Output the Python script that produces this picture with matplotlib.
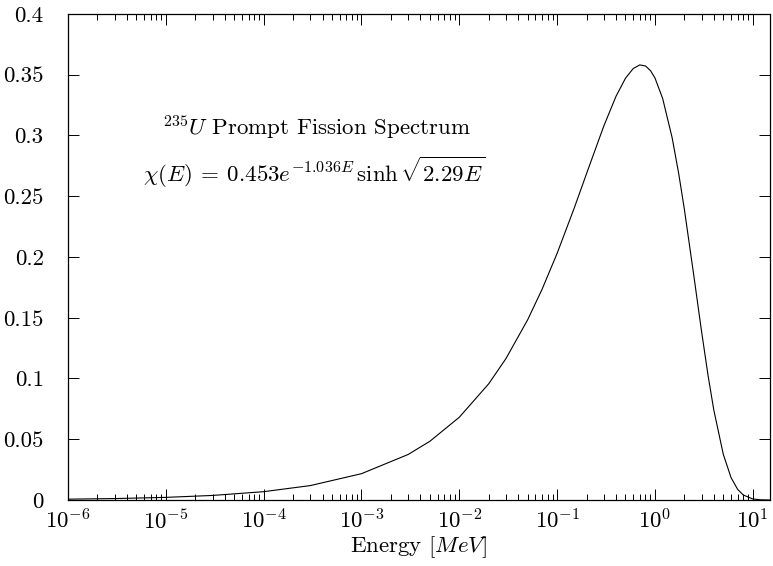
import numpy as np
import matplotlib
matplotlib.use("Agg")
from matplotlib import pyplot as plt
from matplotlib.ticker import FixedLocator, FixedFormatter, LogLocator, LogFormatterMathtext

plt.rcParams['font.family'] = 'cmr10'
plt.rcParams['mathtext.fontset'] = 'cm'
plt.rcParams['axes.formatter.use_mathtext'] = True

# Energy [MeV] and chi(E)
energy = [1e-6, 3e-6, 1e-5, 3e-5, 1e-4, 3e-4, 1e-3, 3e-3, 5e-3, 1e-2, 2e-2, 3e-2,
          5e-2, 0.07, 0.1, 0.15, 0.2, 0.3, 0.4, 0.5, 0.6, 0.7, 0.8, 0.9, 1.0,
          1.2, 1.5, 1.75, 2.0, 2.5, 3.0, 3.5, 4.0, 5.0, 6.0, 7.0, 8.0, 10.0,
          12.0, 15.0]
chi = [0.000686, 0.001187, 0.002168, 0.003755, 0.006854, 0.011871, 0.021664,
       0.037474, 0.048314, 0.068105, 0.095684, 0.116423, 0.148340, 0.173226,
       0.202990, 0.240524, 0.268671, 0.307768, 0.332256, 0.347124, 0.355122,
       0.358084, 0.357240, 0.353427, 0.347363, 0.330385, 0.298069, 0.268594,
       0.239151, 0.184374, 0.138432, 0.101932, 0.073915, 0.037539, 0.018410,
       0.008795, 0.004116, 0.000859, 0.000171, 0.000014]

y_ticks = [0, 0.05, 0.1, 0.15, 0.2, 0.25, 0.3, 0.35, 0.4]
y_tick_labels = ['0', '0.05', '0.1', '0.15', '0.2', '0.25', '0.3', '0.35', '0.4']

fig = plt.figure(figsize=(7.73, 5.66), dpi=100)
ax = fig.add_axes([0.088, 0.1166, 0.9081, 0.8587])

ax.plot(energy, chi, color='black', linewidth=0.8)

ax.set_xscale('log')
ax.set_xlim(1e-6, 15)
ax.set_ylim(0, 0.4)

ax.xaxis.set_major_locator(LogLocator(base=10, numticks=20))
ax.xaxis.set_minor_locator(LogLocator(base=10, subs=np.arange(2, 10), numticks=20))
ax.xaxis.set_major_formatter(LogFormatterMathtext())
ax.yaxis.set_major_locator(FixedLocator(y_ticks))
ax.yaxis.set_major_formatter(FixedFormatter(y_tick_labels))

ax.tick_params(which='both', direction='in', top=True, right=True, width=0.7,
               labelsize=16.5)
ax.tick_params(axis='x', pad=6)
ax.tick_params(axis='y', pad=17.5)
ax.tick_params(which='major', length=8)
ax.tick_params(which='minor', length=4)
for s in ax.spines.values():
    s.set_linewidth(0.9)

ax.set_xlabel(r'Energy $[MeV]$', fontsize=16.5, labelpad=1)

ax.text(0.354, 0.7675, r'$^{235}U$ Prompt Fission Spectrum', transform=ax.transAxes,
        ha='center', va='center', fontsize=16.5)
ax.text(0.351, 0.675, r'$\chi(E)\:=\:0.453e^{-1.036E}\,\sinh\sqrt{2.29E}$',
        transform=ax.transAxes, ha='center', va='center', fontsize=16.5)

fig.savefig('out.png', dpi=100)
